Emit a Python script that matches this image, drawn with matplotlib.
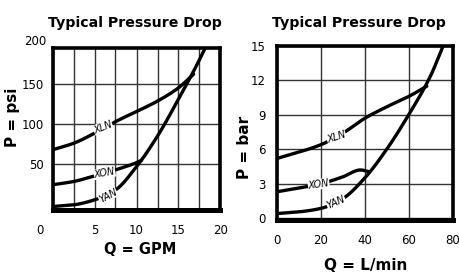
import numpy as np
import matplotlib
matplotlib.use("Agg")
import matplotlib.pyplot as plt
import matplotlib.transforms as mtransforms

plt.rcParams["font.family"] = ["DejaVu Sans"]

# left chart: flow in GPM, pressure in psi
gpm_xln = [0, 2.5, 5, 7.5, 10, 12.5, 15, 16.8]
psi_xln = [68, 76, 88.5, 103, 115.5, 128.5, 145, 162]
gpm_xon = [0, 2.5, 5, 7.5, 10, 10.6]
psi_xon = [24.5, 28.5, 35.5, 43, 52, 55]
gpm_yan = [0, 2.5, 5, 7.5, 10, 12.5, 15, 17.5, 18.2]
psi_yan = [-2.6, -0.5, 5.7, 18, 47, 85, 131, 180, 195]

# right chart: flow in L/min, pressure in bar
lpm_xln = [0, 20, 30, 40, 50, 60, 68.3]
bar_xln = [5.2, 6.4, 7.4, 8.7, 9.7, 10.6, 11.5]
lpm_xon = [0, 20, 30, 38, 42]
bar_xon = [2.3, 3.0, 3.6, 4.2, 4.05]
lpm_yan = [0, 10, 20, 30, 40, 50, 60, 70, 75.5]
bar_yan = [0.4, 0.55, 0.85, 1.7, 3.5, 6.0, 9.0, 12.4, 14.9]

W, H = 459, 276
fig = plt.figure(figsize=(W / 100, H / 100), dpi=100)


def px_axes(x0, y0, x1, y1):
    return fig.add_axes([x0 / W, 1 - y1 / H, (x1 - x0) / W, (y1 - y0) / H])


def smooth(x, y, n=200):
    # monotone cubic (pchip style) through the read points
    x = np.asarray(x, float)
    y = np.asarray(y, float)
    h = np.diff(x)
    d = np.diff(y) / h
    m = np.zeros_like(y)
    m[0], m[-1] = d[0], d[-1]
    for i in range(1, len(x) - 1):
        if d[i - 1] * d[i] > 0:
            w1 = 2 * h[i] + h[i - 1]
            w2 = h[i] + 2 * h[i - 1]
            m[i] = (w1 + w2) / (w1 / d[i - 1] + w2 / d[i])
    xs = np.linspace(x[0], x[-1], n)
    k = np.clip(np.searchsorted(x, xs) - 1, 0, len(x) - 2)
    t = (xs - x[k]) / h[k]
    h00 = 2 * t**3 - 3 * t**2 + 1
    h10 = t**3 - 2 * t**2 + t
    h01 = -2 * t**3 + 3 * t**2
    h11 = t**3 - t**2
    ys = h00 * y[k] + h10 * h[k] * m[k] + h01 * y[k + 1] + h11 * h[k] * m[k + 1]
    return xs, ys


def style(ax):
    for s in ax.spines.values():
        s.set_linewidth(2.6)
        s.set_color("black")
    ax.spines["bottom"].set_linewidth(3.6)
    ax.grid(True, color="#333333", linewidth=1.0)
    ax.set_axisbelow(True)
    ax.tick_params(length=0, labelsize=8.5)


def curve(ax, x, y, label, lx, ly, rot):
    xs, ys = smooth(x, y)
    ax.plot(xs, ys, color="black", linewidth=2.4, solid_capstyle="round")
    ax.text(lx, ly, label, fontsize=7, rotation=rot, ha="center", va="center",
            fontstyle="italic",
            bbox=dict(facecolor="white", edgecolor="none", pad=0.2))


# ---- left ----
ax1 = px_axes(52.5, 48, 220.5, 210)
curve(ax1, gpm_xln, psi_xln, "XLN", 6.0, 96, 22)
curve(ax1, gpm_xon, psi_xon, "XON", 6.2, 39, 10)
curve(ax1, gpm_yan, psi_yan, "YAN", 6.6, 11, 28)
ax1.set_xlim(0, 20)
ax1.set_ylim(-6.9, 194.5)
ax1.set_xticks(np.arange(0, 20.1, 2.5))
ax1.set_yticks([50, 100, 150])
style(ax1)
ax1.set_xticklabels(["", "", "5", "", "10", "", "15", "", "20"])
ax1.tick_params(axis="x", pad=10)
ax1.tick_params(axis="y", pad=6)
ax1.text(-0.7, 202, "200", fontsize=8.5, ha="right", va="center", clip_on=False)
tr = mtransforms.blended_transform_factory(ax1.transData, ax1.transAxes)
ax1.text(-1.5, -0.125, "0", fontsize=8.5, ha="center", va="center", transform=tr)

# ---- right ----
ax2 = px_axes(277, 46, 452.5, 220)
curve(ax2, lpm_xln, bar_xln, "XLN", 27, 7.1, 18)
curve(ax2, lpm_xon, bar_xon, "XON", 19, 2.95, 8)
curve(ax2, lpm_yan, bar_yan, "YAN", 27, 1.35, 24)
ax2.set_xlim(0, 80)
ax2.set_ylim(-0.16, 15)
ax2.set_xticks([0, 20, 40, 60, 80])
ax2.set_yticks([0, 3, 6, 9, 12, 15])
style(ax2)
ax2.tick_params(axis="x", pad=10)
ax2.tick_params(axis="y", pad=8)

# titles and axis names
bold = dict(fontweight="bold", ha="center", va="center")
fig.text(135 / W, 1 - 23 / H, "Typical Pressure Drop", fontsize=10.2, **bold)
fig.text(359 / W, 1 - 23 / H, "Typical Pressure Drop", fontsize=10.2, **bold)
fig.text(140 / W, 1 - 250 / H, "Q = GPM", fontsize=10.5, **bold)
fig.text(366 / W, 1 - 265 / H, "Q = L/min", fontsize=11, **bold)
fig.text(13 / W, 1 - 117 / H, "P = psi", fontsize=11, rotation=90, **bold)
fig.text(244 / W, 1 - 147 / H, "P = bar", fontsize=11, rotation=90, **bold)

fig.savefig("out.png", dpi=100)
